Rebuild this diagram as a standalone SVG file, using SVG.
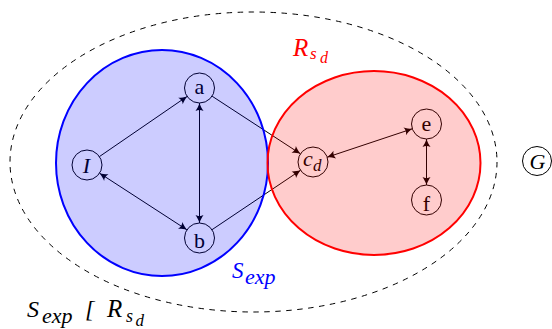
<svg xmlns="http://www.w3.org/2000/svg" width="552" height="329" viewBox="0 0 552 329">
<defs>
<marker id="ar" viewBox="-9 -5 10 10" refX="0" refY="0" markerWidth="10" markerHeight="10" orient="auto-start-reverse" markerUnits="userSpaceOnUse">
<path d="M0,0 C-3,-1 -6,-2.5 -8,-4 C-6.5,-1.5 -6.5,1.5 -8,4 C-6,2.5 -3,1 0,0 Z" fill="#000"/>
</marker>
</defs>
<rect width="552" height="329" fill="#fff"/>
<ellipse id="outer" cx="253.5" cy="162" rx="243.5" ry="150" fill="none" stroke="#000" stroke-width="1" stroke-dasharray="5.5 5.5"/>
<g id="connectors" stroke="#000" stroke-width="1" fill="none">
<line x1="99.4" y1="156.6" x2="187.1" y2="96.4" marker-end="url(#ar)"/>
<line x1="99.6" y1="173.2" x2="186.9" y2="229.8" marker-start="url(#ar)" marker-end="url(#ar)"/>
<line x1="199.5" y1="103" x2="199.5" y2="223" marker-start="url(#ar)" marker-end="url(#ar)"/>
<line x1="212.1" y1="96.2" x2="300.4" y2="153.8" marker-end="url(#ar)"/>
<line x1="212" y1="229.7" x2="300.5" y2="170.3" marker-end="url(#ar)"/>
<line x1="327.2" y1="157.2" x2="412.3" y2="128.8" marker-start="url(#ar)" marker-end="url(#ar)"/>
<line x1="426.5" y1="139" x2="426.5" y2="185" marker-start="url(#ar)" marker-end="url(#ar)"/>
</g>
<g id="node-I"><circle cx="87" cy="165" r="15" fill="none" stroke="#000"/><text style="font-family:Liberation Serif, serif !important" font-size="22" font-style="italic" x="86.5" y="172.5" text-anchor="middle">I</text></g>
<g id="node-a"><circle cx="199.5" cy="88" r="15" fill="none" stroke="#000"/><text style="font-family:Liberation Serif, serif !important" font-size="22" x="199.5" y="94" text-anchor="middle">a</text></g>
<g id="node-b"><circle cx="199.5" cy="238" r="15" fill="none" stroke="#000"/><text style="font-family:Liberation Serif, serif !important" font-size="22" x="199.5" y="248" text-anchor="middle">b</text></g>
<g id="node-cd"><circle cx="313" cy="162" r="15" fill="none" stroke="#000"/><text style="font-family:Liberation Serif, serif !important" font-size="22" font-style="italic" x="303" y="166">c<tspan x="313" y="171" font-size="17">d</tspan></text></g>
<g id="node-e"><circle cx="426.5" cy="124" r="15" fill="none" stroke="#000"/><text style="font-family:Liberation Serif, serif !important" font-size="22" x="426.5" y="131" text-anchor="middle">e</text></g>
<g id="node-f"><circle cx="426.5" cy="200" r="15" fill="none" stroke="#000"/><text style="font-family:Liberation Serif, serif !important" font-size="22" x="426.5" y="211" text-anchor="middle">f</text></g>
<g id="node-G"><circle cx="537" cy="161" r="14.5" fill="none" stroke="#000"/><text style="font-family:Liberation Serif, serif !important" font-size="22" font-style="italic" x="537.5" y="169" text-anchor="middle">G</text></g>
<g id="regions">
<ellipse id="S-exp" cx="162" cy="163" rx="106" ry="113" fill="#0000ff" fill-opacity="0.2" stroke="none"/>
<ellipse id="R-sd" cx="374" cy="163" rx="106.5" ry="92" fill="#ff0000" fill-opacity="0.2" stroke="none"/>
<ellipse cx="162" cy="163" rx="106" ry="113" fill="none" stroke="#0000ff" stroke-width="2"/>
<ellipse cx="374" cy="163" rx="106.5" ry="92" fill="none" stroke="#ff0000" stroke-width="2"/>
</g>
<g id="labels">
<text style="font-family:Liberation Serif, serif !important" font-style="italic" fill="#ff0000" font-size="25" x="293" y="56">R<tspan x="310" y="58.5" font-size="17">s</tspan><tspan x="320" y="62.5" font-size="16">d</tspan></text>
<text style="font-family:Liberation Serif, serif !important" font-style="italic" fill="#0000ff" font-size="23" x="232" y="278">S<tspan x="245" y="284" font-size="22">exp</tspan></text>
<text style="font-family:Liberation Serif, serif !important" font-style="italic" fill="#000" font-size="24" x="27" y="317">S<tspan x="42" y="323" font-size="22">exp</tspan><tspan x="85" y="317" font-size="24">[</tspan><tspan x="107" y="317" font-size="25">R</tspan><tspan x="126" y="322" font-size="18">s</tspan><tspan x="135.5" y="326" font-size="17">d</tspan></text>
</g>
</svg>
